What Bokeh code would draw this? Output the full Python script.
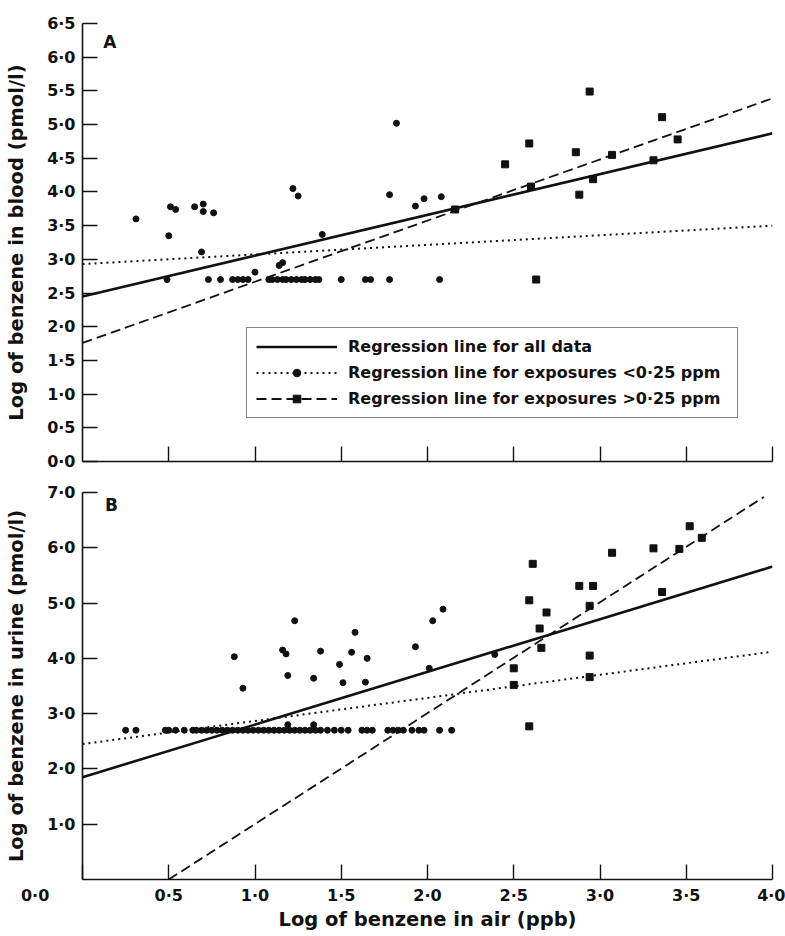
from bokeh.plotting import figure
from bokeh.layouts import column
from bokeh.models import FixedTicker, Label, Legend, LegendItem
from bokeh.embed import file_html
from bokeh.resources import INLINE

FONT = "DejaVu Sans"
INK = "#111111"
NBSP = "\u00a0"

# ---------------- data: panel A (blood) ----------------
a_low_x = [0.31, 0.51, 0.54, 0.65, 0.70, 0.70, 0.76, 1.22, 1.25, 1.82, 1.78, 1.93, 1.98, 2.08,
           0.50, 0.69, 1.16, 1.14, 1.39, 1.00,
           0.49, 0.73, 0.80, 0.87, 0.90, 0.93, 0.96, 1.08, 1.10, 1.13, 1.16, 1.18, 1.21, 1.24,
           1.27, 1.29, 1.32, 1.35, 1.37, 1.50, 1.64, 1.67, 1.78, 2.07]
a_low_y = [3.60, 3.78, 3.74, 3.78, 3.82, 3.71, 3.69, 4.05, 3.94, 5.02, 3.96, 3.79, 3.90, 3.93,
           3.35, 3.11, 2.95, 2.91, 3.37, 2.81,
           2.70, 2.70, 2.70, 2.70, 2.70, 2.70, 2.70, 2.70, 2.70, 2.70, 2.70, 2.70, 2.70, 2.70,
           2.70, 2.70, 2.70, 2.70, 2.70, 2.70, 2.70, 2.70, 2.70, 2.70]
a_high_x = [2.94, 2.59, 2.45, 2.86, 3.07, 3.36, 3.45, 3.31, 2.96, 2.88, 2.60, 2.16, 2.63]
a_high_y = [5.49, 4.72, 4.41, 4.59, 4.55, 5.11, 4.78, 4.47, 4.19, 3.96, 4.08, 3.74, 2.70]

a_all_line_x = [0.0, 4.0]
a_all_line_y = [2.45, 4.87]
a_low_line_x = [0.0, 4.0]
a_low_line_y = [2.93, 3.50]
a_high_line_x = [0.0, 4.0]
a_high_line_y = [1.76, 5.39]

# ---------------- data: panel B (urine) ----------------
b_low_x = [0.88, 0.93, 1.23, 1.16, 1.18, 1.19, 1.38, 1.34, 1.58, 1.56, 1.49, 1.65, 1.51, 1.64,
           1.93, 2.03, 2.09, 2.01, 2.39, 1.19, 1.34,
           0.25, 0.31, 0.48, 0.50, 0.54, 0.59, 0.64, 0.66, 0.69, 0.72, 0.75, 0.78, 0.81, 0.84,
           0.87, 0.90, 0.93, 0.96, 0.99, 1.02, 1.05, 1.08, 1.11, 1.14, 1.17, 1.20, 1.23, 1.26,
           1.29, 1.32, 1.35, 1.38, 1.42, 1.46, 1.50, 1.54, 1.62, 1.65, 1.68, 1.77, 1.80, 1.83,
           1.86, 1.91, 1.95, 1.98, 2.07, 2.14]
b_low_y = [4.03, 3.46, 4.68, 4.15, 4.08, 3.69, 4.13, 3.64, 4.47, 4.11, 3.89, 4.00, 3.56, 3.57,
           4.21, 4.68, 4.89, 3.82, 4.07, 2.80, 2.80,
           2.70, 2.70, 2.70, 2.70, 2.70, 2.70, 2.70, 2.70, 2.70, 2.70, 2.70, 2.70, 2.70, 2.70,
           2.70, 2.70, 2.70, 2.70, 2.70, 2.70, 2.70, 2.70, 2.70, 2.70, 2.70, 2.70, 2.70, 2.70,
           2.70, 2.70, 2.70, 2.70, 2.70, 2.70, 2.70, 2.70, 2.70, 2.70, 2.70, 2.70, 2.70, 2.70,
           2.70, 2.70, 2.70, 2.70, 2.70, 2.70]
b_high_x = [2.50, 2.50, 2.61, 2.59, 2.65, 2.66, 2.69, 2.88, 2.96, 2.94, 2.94, 2.94, 3.07, 3.31,
            3.46, 3.52, 3.59, 3.36, 2.59]
b_high_y = [3.82, 3.52, 5.71, 5.05, 4.54, 4.19, 4.83, 5.31, 5.31, 4.95, 4.05, 3.66, 5.91, 5.99,
            5.98, 6.39, 6.18, 5.20, 2.77]

b_all_line_x = [0.0, 4.0]
b_all_line_y = [1.85, 5.66]
b_low_line_x = [0.0, 4.0]
b_low_line_y = [2.45, 4.12]
b_high_line_x = [0.5, 3.95]
b_high_line_y = [0.0, 6.92]

# ---------------- ticks ----------------
a_x_ticks = [0.5, 1.0, 1.5, 2.0, 2.5, 3.0, 3.5, 4.0]
b_x_ticks = [0.0, 0.5, 1.0, 1.5, 2.0, 2.5, 3.0, 3.5, 4.0]
# the shared origin label "0·0" sits left of the corner (padded so it lands there)
b_x_tick_labels = ["0·0" + NBSP * 17, "0·5", "1·0", "1·5", "2·0", "2·5", "3·0", "3·5", "4·0"]
a_y_ticks = [0.0, 0.5, 1.0, 1.5, 2.0, 2.5, 3.0, 3.5, 4.0, 4.5, 5.0, 5.5, 6.0, 6.5]
a_y_tick_labels = ["0·0", "0·5", "1·0", "1·5", "2·0", "2·5", "3·0", "3·5", "4·0", "4·5",
                   "5·0", "5·5", "6·0", "6·5"]
b_y_ticks = [1.0, 2.0, 3.0, 4.0, 5.0, 6.0, 7.0]
b_y_tick_labels = ["1·0", "2·0", "3·0", "4·0", "5·0", "6·0", "7·0"]

legend_labels = ["Regression line for all data",
                 "Regression line for exposures <0·25 ppm",
                 "Regression line for exposures >0·25 ppm"]


def style_axes(p):
    p.xgrid.visible = False
    p.ygrid.visible = False
    p.outline_line_color = None
    p.background_fill_color = "white"
    p.border_fill_color = "white"
    for ax in (p.xaxis[0], p.yaxis[0]):
        ax.axis_line_color = INK
        ax.axis_line_width = 1.6
        ax.major_tick_line_color = INK
        ax.major_tick_line_width = 1.4
        ax.major_tick_in = 15
        ax.major_tick_out = 0
        ax.minor_tick_line_color = None
        ax.major_label_text_font = FONT
        ax.major_label_text_font_style = "bold"
        ax.major_label_text_font_size = "16px"
        ax.major_label_text_color = INK
        ax.axis_label_text_font = FONT
        ax.axis_label_text_font_style = "bold"
        ax.axis_label_text_font_size = "19.5px"
        ax.axis_label_text_color = INK


# ---------------- panel A ----------------
p1 = figure(width=785, height=475, x_range=(0, 4), y_range=(0, 6.5),
            output_backend="svg", toolbar_location=None,
            min_border_left=82, min_border_right=12, min_border_top=23, min_border_bottom=14)
style_axes(p1)
p1.xaxis.ticker = FixedTicker(ticks=a_x_ticks)
p1.xaxis.major_label_text_font_size = "9px"
p1.xaxis.major_label_text_color = None
p1.xaxis.major_label_standoff = 0
p1.yaxis.ticker = FixedTicker(ticks=a_y_ticks)
p1.yaxis.major_label_overrides = dict(zip(a_y_ticks, a_y_tick_labels))
p1.yaxis.major_label_standoff = 7
p1.yaxis.axis_label = "Log of benzene in blood (pmol/l)"
p1.yaxis.axis_label_standoff = 16

ra_all = p1.line(a_all_line_x, a_all_line_y, line_color=INK, line_width=2.6)
ra_low = p1.line(a_low_line_x, a_low_line_y, line_color=INK, line_width=2.0, line_dash="2 4")
ra_high = p1.line(a_high_line_x, a_high_line_y, line_color=INK, line_width=1.8, line_dash="10 5")
ra_c = p1.scatter(a_low_x, a_low_y, marker="circle", size=6, fill_color=INK, line_color=INK)
ra_s = p1.scatter(a_high_x, a_high_y, marker="square", size=7, fill_color=INK, line_color=INK)

legend = Legend(items=[LegendItem(label=legend_labels[0], renderers=[ra_all]),
                       LegendItem(label=legend_labels[1], renderers=[ra_low, ra_c]),
                       LegendItem(label=legend_labels[2], renderers=[ra_high, ra_s])],
                location=(164, 43), orientation="vertical",
                glyph_width=81, glyph_height=19, label_height=19, label_width=380,
                label_standoff=11, spacing=7, padding=9, margin=0,
                border_line_color=INK, border_line_width=1.5,
                background_fill_color="white", background_fill_alpha=1.0,
                label_text_font=FONT, label_text_font_style="bold",
                label_text_font_size="16px", label_text_color=INK)
p1.add_layout(legend)

p1.add_layout(Label(x=0.12, y=6.23, text="A", text_font=FONT, text_font_style="bold",
                    text_font_size="17px", text_color=INK, text_baseline="middle"))

# ---------------- panel B ----------------
p2 = figure(width=785, height=460, x_range=(0, 4), y_range=(0, 7),
            output_backend="svg", toolbar_location=None,
            min_border_left=80, min_border_right=13, min_border_top=17, min_border_bottom=56)
style_axes(p2)
p2.xaxis.ticker = FixedTicker(ticks=b_x_ticks)
p2.xaxis.major_label_overrides = dict(zip(b_x_ticks, b_x_tick_labels))
p2.xaxis.major_label_standoff = 6
p2.xaxis.axis_label = "Log of benzene in air (ppb)"
p2.xaxis.axis_label_standoff = 0
p2.yaxis.ticker = FixedTicker(ticks=b_y_ticks)
p2.yaxis.major_label_overrides = dict(zip(b_y_ticks, b_y_tick_labels))
p2.yaxis.major_label_standoff = 7
p2.yaxis.axis_label = "Log of benzene in urine (pmol/l)"
p2.yaxis.axis_label_standoff = 16

p2.line(b_all_line_x, b_all_line_y, line_color=INK, line_width=2.6)
p2.line(b_low_line_x, b_low_line_y, line_color=INK, line_width=2.0, line_dash="2 4")
p2.line(b_high_line_x, b_high_line_y, line_color=INK, line_width=1.8, line_dash="10 5")
p2.scatter(b_low_x, b_low_y, marker="circle", size=6, fill_color=INK, line_color=INK)
p2.scatter(b_high_x, b_high_y, marker="square", size=7, fill_color=INK, line_color=INK)

p2.add_layout(Label(x=0.13, y=6.77, text="B", text_font=FONT, text_font_style="bold",
                    text_font_size="17px", text_color=INK, text_baseline="middle"))

layout = column(p1, p2, spacing=0)
open("out.html", "w").write(file_html(layout, INLINE))
